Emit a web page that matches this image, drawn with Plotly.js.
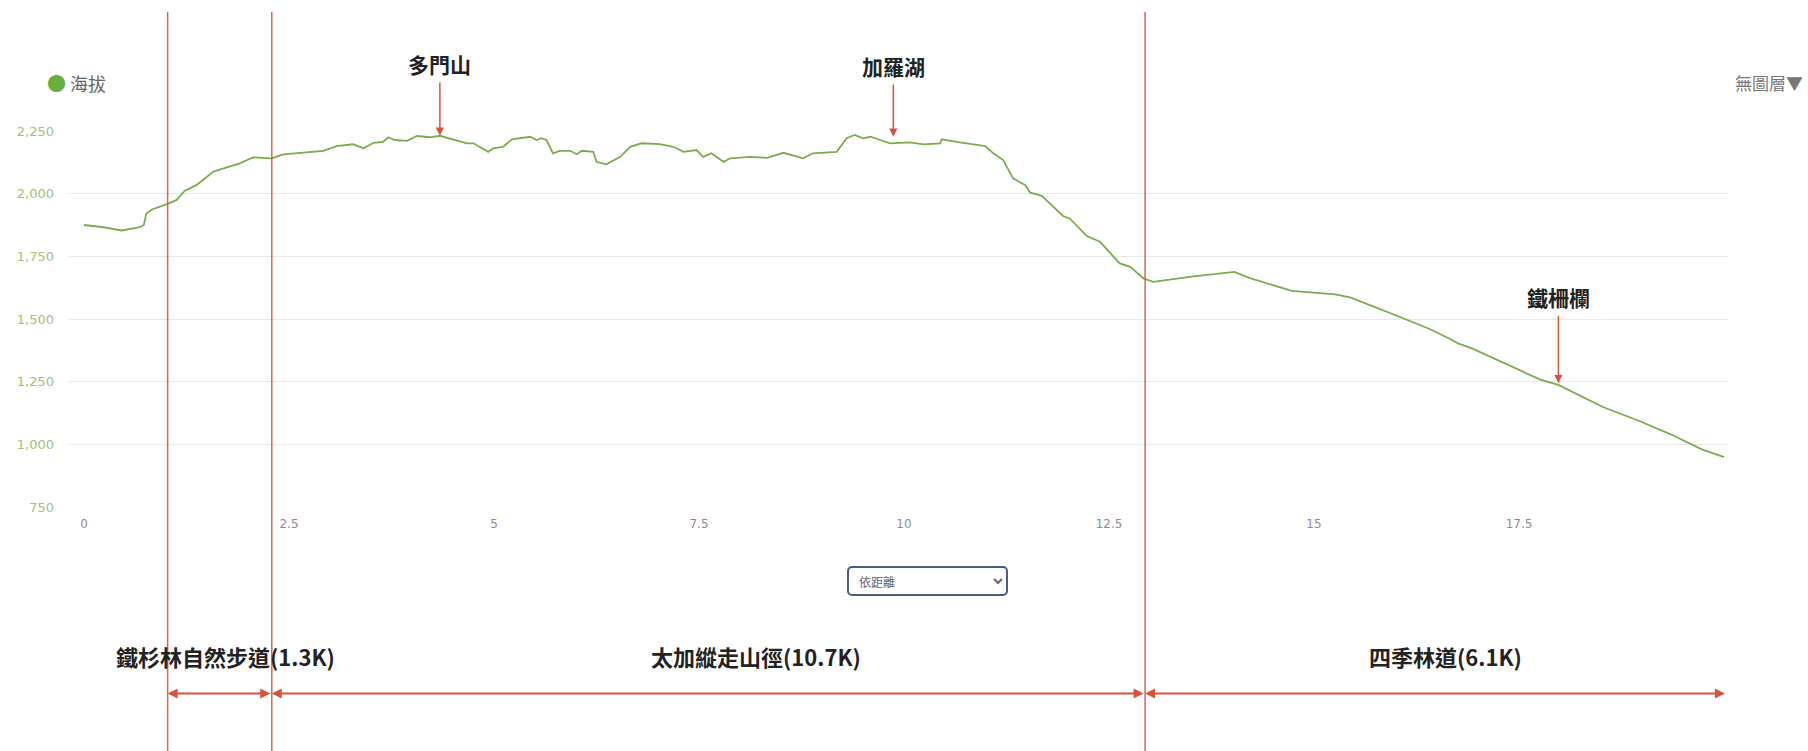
<!DOCTYPE html>
<html>
<head>
<meta charset="utf-8">
<script src="https://cdn.plot.ly/plotly-3.0.1.min.js"></script>
<style>
  html, body { margin: 0; padding: 0; background: #ffffff; }
  #wrap { position: relative; width: 1808px; height: 751px; }
  #chart { width: 1808px; height: 751px; }
  #mode {
    position: absolute; left: 847px; top: 566px; width: 161px; height: 30px;
    border: 2px solid #4b5c80; border-radius: 5px; background: #ffffff;
    font-family: "Noto Sans CJK TC", sans-serif; font-size: 12px; color: #666;
    padding-left: 6px; box-sizing: border-box;
  }
</style>
</head>
<body>
<div id="wrap">
  <div id="chart"></div>
  <select id="mode"><option>依距離</option></select>
</div>
<script>
// ---- data ----
const distanceKm = [0.00,0.24,0.46,0.58,0.68,0.73,0.76,0.83,1.02,1.13,1.23,1.37,1.58,1.74,1.90,2.06,2.29,2.43,2.63,2.92,
  3.08,3.28,3.41,3.53,3.65,3.71,3.79,3.94,4.06,4.22,4.34,4.50,4.67,4.75,4.93,4.99,5.11,5.22,5.34,5.44,
  5.52,5.58,5.64,5.72,5.80,5.93,6.01,6.07,6.21,6.25,6.37,6.54,6.66,6.80,7.02,7.19,7.31,7.47,7.55,7.65,
  7.80,7.88,8.12,8.33,8.53,8.77,8.89,9.18,9.30,9.40,9.50,9.59,9.71,9.83,10.07,10.24,10.44,10.46,10.68,10.99,
  11.09,11.21,11.33,11.48,11.54,11.68,11.94,12.02,12.23,12.39,12.63,12.76,12.92,13.04,13.53,13.77,14.03,14.20,14.59,14.73,
  15.26,15.45,16.08,16.41,16.66,16.75,16.94,17.37,17.47,17.76,17.98,18.53,18.96,19.35,19.73,20.00];
const elevationM = [1875,1866,1853,1861,1866,1875,1921,1937,1959,1975,2012,2034,2088,2105,2121,2145,2141,2157,2163,2171,
  2190,2197,2181,2203,2207,2225,2214,2211,2230,2225,2231,2217,2201,2201,2167,2181,2187,2217,2221,2227,
  2214,2221,2214,2161,2171,2171,2157,2171,2167,2127,2117,2147,2187,2201,2198,2187,2167,2174,2147,2161,
  2127,2141,2147,2143,2163,2141,2161,2167,2221,2234,2221,2227,2214,2201,2205,2197,2201,2217,2205,2190,
  2161,2134,2061,2034,2004,1991,1911,1901,1831,1808,1722,1708,1662,1648,1670,1679,1688,1665,1628,1612,
  1598,1585,1504,1460,1420,1404,1381,1316,1303,1258,1237,1148,1094,1040,980,949];
const xTickVals = [0, 2.5, 5, 7.5, 10, 12.5, 15, 17.5];
const yTickVals = [750, 1000, 1250, 1500, 1750, 2000, 2250];
const landmarkNames = ['多門山', '加羅湖', '鐵柵欄'];
const landmarkKm = [4.34, 9.87, 17.98];
const landmarkElev = [2231, 2227, 1244];
const sectionBoundsKm = [1.02, 2.29, 12.94, 20.03];
const sectionNames = ['鐵杉林自然步道(1.3K)', '太加縱走山徑(10.7K)', '四季林道(6.1K)'];
const seriesName = '海拔';
const layerLabel = '無圖層▼';

// ---- layout helpers ----
const W = 1808, H = 751;
const plotTop = 131, plotBottom = 506.7, plotLeft = 69, plotRight = 1728;
const py = px => (plotBottom - px) / (plotBottom - plotTop);
const pxx = px => (px - plotLeft) / (plotRight - plotLeft);
const yPix = v => plotBottom - (plotBottom - plotTop) * ((v - 750) / 1500);
const cjk = '"Noto Sans CJK TC", "Noto Sans CJK SC", sans-serif';
const tickFam = '"DejaVu Sans", sans-serif';
const red = 'rgb(214,84,62)';

const trace = {
  x: distanceKm, y: elevationM, type: 'scatter', mode: 'lines', name: seriesName,
  line: { color: '#7dab4e', width: 1.8 }, showlegend: false, hoverinfo: 'x+y'
};

const shapes = sectionBoundsKm.slice(0, 3).map(k => ({
  type: 'line', xref: 'x', yref: 'paper', x0: k, x1: k, y0: py(H), y1: py(12),
  line: { color: 'rgba(200,90,72,0.9)', width: 1.5 }
}));

const annotations = [];
// landmarks
const landmarkTextY = [64, 66, 297];
landmarkNames.forEach((n, i) => {
  annotations.push({
    x: landmarkKm[i], y: landmarkElev[i], xref: 'x', yref: 'y',
    text: '<b>' + n + '</b>', showarrow: true, arrowhead: 2, arrowsize: 1.1, arrowwidth: 1.5,
    arrowcolor: red, ax: 0, ay: landmarkTextY[i] - yPix(landmarkElev[i]),
    font: { family: cjk, size: 21, color: '#222' }, borderpad: 3
  });
});
// sections: double arrows
for (let i = 0; i < 3; i++) {
  annotations.push({
    x: sectionBoundsKm[i], ax: sectionBoundsKm[i + 1], axref: 'x', xref: 'x',
    y: py(693), yref: 'paper', ay: 0, ayref: 'pixel',
    text: '', showarrow: true, arrowhead: 2, startarrowhead: 2, arrowside: 'end+start',
    arrowsize: 1, startarrowsize: 1, arrowwidth: 2, arrowcolor: red, standoff: 0, startstandoff: 0
  });
}
const sectionLabelKm = [1.72, 8.2, 16.6];
sectionNames.forEach((n, i) => {
  annotations.push({
    x: sectionLabelKm[i], xref: 'x', y: py(656), yref: 'paper', yanchor: 'middle',
    text: '<b>' + n + '</b>',
    showarrow: false, font: { family: cjk, size: 22, color: '#222' }
  });
});
// legend-like label and layer menu text
annotations.push({
  x: pxx(45), xref: 'paper', xanchor: 'left', y: py(83), yref: 'paper', yanchor: 'middle',
  showarrow: false,
  text: '<span style="color:#6aae3c;font-size:19px">●</span> ' + seriesName,
  font: { family: cjk, size: 18, color: '#666' }
});
annotations.push({
  x: pxx(1733), xref: 'paper', xanchor: 'left', y: py(83), yref: 'paper', yanchor: 'middle',
  showarrow: false,
  text: layerLabel, font: { family: cjk, size: 17, color: '#777' }
});

const layout = {
  width: W, height: H,
  margin: { l: plotLeft, r: W - plotRight, t: plotTop, b: H - plotBottom },
  paper_bgcolor: '#ffffff', plot_bgcolor: '#ffffff',
  showlegend: false,
  xaxis: {
    range: [(plotLeft - 84) / 82, (plotRight - 84) / 82],
    tickvals: xTickVals, showgrid: false, zeroline: false, showline: false, ticks: '',
    tickfont: { family: tickFam, size: 12, color: '#8c8c8c' },
    ticklabelstandoff: 8
  },
  yaxis: {
    range: [750, 2250], tickvals: yTickVals, tickformat: ',d',
    showgrid: true, gridcolor: '#e8e8e8', gridwidth: 1, zeroline: false, showline: false, ticks: '',
    tickfont: { family: tickFam, size: 13, color: '#a3bf7c' },
    ticklabelstandoff: 14
  },
  shapes: shapes,
  annotations: annotations
};

Plotly.newPlot('chart', [trace], layout, { displayModeBar: false, staticPlot: true });
</script>
</body>
</html>
